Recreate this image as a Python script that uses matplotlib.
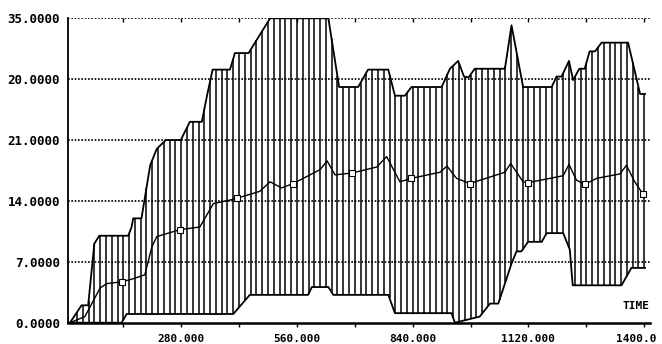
import numpy as np
import matplotlib
matplotlib.use("Agg")
import matplotlib.pyplot as plt
import matplotlib.transforms as mtransforms
from matplotlib.ticker import FixedLocator, NullFormatter

# upper envelope of the band (time, value)
up_t = [11, 39, 55, 70, 82, 152, 160, 164, 184, 205, 221, 243, 279, 301, 330, 342, 356, 398,
        410, 443, 495, 636, 662, 708, 732, 781, 797, 821, 837, 910, 930, 950, 964, 975, 990,
        1063, 1079, 1107, 1176, 1188, 1200, 1218, 1228, 1243, 1256, 1268, 1281, 1297, 1361,
        1390, 1402]
up_v = [0, 2, 2, 9.1, 10, 10, 11, 12, 12, 18.1, 20, 21, 21, 23.1, 23.1, 26, 29.1, 29.1,
        31, 31, 35, 35, 27.1, 27.1, 29.1, 29.1, 26.1, 26.1, 27.1, 27.1, 29.2, 30.1, 28.3, 28.2, 29.2,
        29.2, 34.2, 27.1, 27.1, 28.3, 28.3, 30.1, 27.9, 29.2, 29.2, 31.2, 31.2, 32.2, 32.2,
        26.3, 26.3]

# lower envelope of the band
lo_t = [11, 136, 148, 406, 446, 587, 596, 636, 648, 781, 797, 934, 942, 1002, 1027, 1047,
        1079, 1091, 1103, 1119, 1152, 1164, 1204, 1220, 1227, 1345, 1369, 1402]
lo_v = [0, 0, 1.0, 1.0, 3.2, 3.2, 4.1, 4.1, 3.2, 3.2, 1.1, 1.1, 0, 0.7, 2.2, 2.2,
        6.8, 8.2, 8.2, 9.3, 9.3, 10.3, 10.3, 8.4, 4.3, 4.3, 6.3, 6.3]

# mean curve
mn_t = [11, 47, 84, 100, 136, 160, 192, 209, 221, 277, 325, 358, 398, 414, 470, 495, 523,
        551, 616, 633, 652, 692, 753, 777, 809, 837, 906, 923, 946, 978, 1063, 1077, 1107,
        1119, 1204, 1218, 1236, 1256, 1285, 1341, 1357, 1377, 1397]
mn_v = [0, 0.7, 4.0, 4.5, 4.7, 5.0, 5.5, 8.7, 9.9, 10.7, 11.0, 13.7, 14.1, 14.3, 15.1, 16.2, 15.5,
        16.0, 17.6, 18.6, 17.0, 17.2, 17.9, 19.1, 16.2, 16.6, 17.3, 18.0, 16.6, 16.0, 17.3, 18.3, 16.2,
        16.1, 16.9, 18.2, 16.4, 15.9, 16.6, 17.1, 18.1, 16.2, 14.8]
mark_t = [136, 277, 414, 551, 692, 837, 978, 1119, 1256, 1397]

y_ticks = [0, 7, 14, 21, 28, 35]
y_labels = ["0.0000", "7.0000", "14.0000", "21.0000", "20.0000", "35.0000"]
x_ticks = [280, 560, 840, 1120, 1400]
x_labels = ["280.000", "560.000", "840.000", "1120.000", "1400.0"]

fig = plt.figure(figsize=(6.62, 3.44), dpi=100)
ax = fig.add_axes([0.1032, 0.0619, 0.8787, 0.8849])
ax.set_xlim(7, 1414)
ax.set_ylim(0, 35)

# dotted grid
for yv in y_ticks[1:]:
    ax.axhline(yv, color="black", lw=1.2, ls=(0, (1, 1)), zorder=1)

# vertical hatching between the envelopes
hx = np.arange(14, 1402, 14)
ax.vlines(hx, np.interp(hx, lo_t, lo_v), np.interp(hx, up_t, up_v), color="black", lw=1.1, zorder=2)

ax.plot(up_t, up_v, color="black", lw=1.3, zorder=3)
ax.plot(lo_t, lo_v, color="black", lw=1.3, zorder=3)
idx = [mn_t.index(t) for t in mark_t]
ax.plot(mn_t, mn_v, color="black", lw=1.0, marker="s", markevery=idx, ms=4.5,
        mfc="white", mec="black", mew=0.8, zorder=4)

for s in ["top", "right"]:
    ax.spines[s].set_visible(False)
ax.spines["left"].set_linewidth(1.3)
ax.spines["bottom"].set_linewidth(1.8)

font = dict(family="DejaVu Sans Mono", weight="bold")
ax.set_yticks(y_ticks)
ax.set_yticklabels(y_labels, fontsize=9, **font)
ax.tick_params(axis="y", length=0, pad=6)
ax.set_xticks(x_ticks)
ax.set_xticklabels(x_labels, fontsize=8, **font)
ax.xaxis.set_minor_locator(FixedLocator([140, 420, 700, 980, 1260]))
ax.tick_params(axis="x", which="both", direction="out", length=3, width=1.0, pad=5)

# last label sits against the right edge
last = ax.get_xticklabels()[-1]
last.set_transform(last.get_transform() + mtransforms.ScaledTranslation(-0.08, 0, fig.dpi_scale_trans))

# small ticks hanging from the top line
top = ax.secondary_xaxis("top")
top.set_xticks([140, 280, 420, 560, 700, 840, 980, 1120, 1260, 1400])
top.xaxis.set_major_formatter(NullFormatter())
top.tick_params(direction="in", length=3, width=1.0)
top.spines["top"].set_visible(False)

ax.text(1412, 1.3, "TIME", ha="right", va="bottom", fontsize=8, **font)

fig.savefig("out.png", dpi=100)
